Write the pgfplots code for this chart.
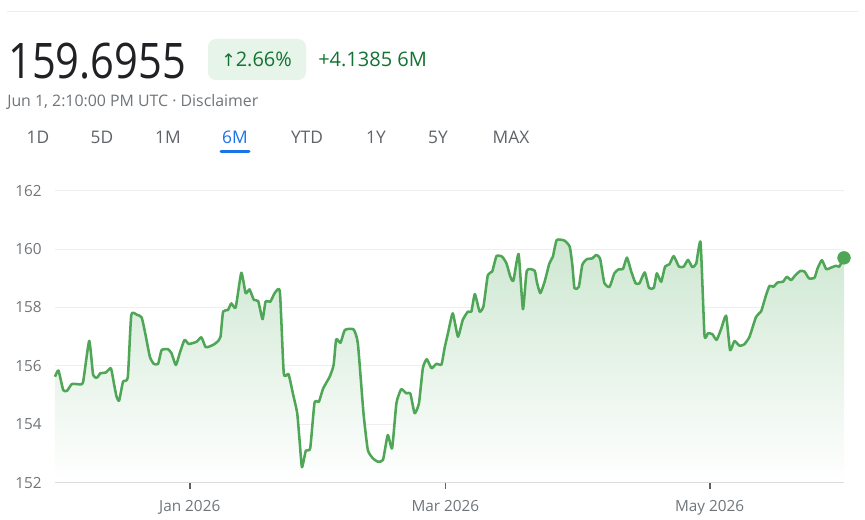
\documentclass[border=0pt]{standalone}
\usepackage{pgfplots}
\pgfplotsset{compat=1.18}
\usepackage{fontspec}
\usepackage{graphicx}
\setmainfont{Open Sans}
\newfontfamily\dejavu{DejaVu Sans}
\definecolor{txtdark}{HTML}{202124}
\definecolor{txtgray}{HTML}{70757A}
\definecolor{tabgray}{HTML}{5F6368}
\definecolor{gtext}{HTML}{137333}
\definecolor{badgebg}{HTML}{E6F4EA}
\definecolor{gblue}{HTML}{1A73E8}
\definecolor{linegreen}{RGB}{78,166,86}
\definecolor{fillgreen}{RGB}{205,231,209}
\definecolor{fillmid}{RGB}{232,244,234}
\definecolor{gridc}{HTML}{EEEEEE}
\definecolor{axisc}{HTML}{9AA0A6}
\definecolor{tickc}{HTML}{5F6368}

\pgfplotstableread{
d v
-31.1 155.63
-30.3 155.84
-29.2 155.17
-28.3 155.15
-27.2 155.38
-25.4 155.37
-24.6 155.46
-23.2 156.86
-22.3 155.69
-21.4 155.60
-20.6 155.75
-19.4 155.77
-18.2 155.92
-17.5 155.40
-16.9 154.95
-16.3 154.81
-15.4 155.46
-14.3 155.61
-13.5 157.74
-12.2 157.75
-11.1 157.66
-10.2 157.06
-9.2 156.31
-8.3 156.07
-7.3 156.07
-6.5 156.54
-5.0 156.57
-4.2 156.43
-3.2 156.03
-2.2 156.49
-1.2 156.89
-0.2 156.75
1.6 156.83
2.7 156.98
3.7 156.64
5.4 156.72
6.4 156.83
7.1 157.00
7.7 157.86
8.8 157.91
9.6 158.14
10.6 158.00
11.9 159.19
12.9 158.49
13.8 158.62
14.8 158.26
15.8 158.22
16.8 157.60
17.5 158.20
18.6 158.20
19.6 158.49
20.8 158.54
21.7 155.75
22.8 155.72
23.8 155.06
24.8 154.38
25.4 153.35
25.9 152.53
26.8 153.10
27.8 153.18
28.8 154.74
29.8 154.77
30.8 155.23
32.3 155.63
33.2 156.03
33.8 156.91
34.8 156.79
35.8 157.23
37.8 157.25
38.8 156.77
40.1 154.38
41.1 153.12
42.3 152.83
43.4 152.72
44.6 152.78
45.7 153.63
46.7 153.18
47.7 154.72
48.8 155.20
50.0 155.06
50.9 155.06
51.9 154.38
52.9 154.72
53.8 155.92
54.7 156.23
55.8 155.92
56.9 156.07
58.1 156.05
58.8 156.60
59.6 157.12
60.7 157.80
61.9 157.00
63.0 157.57
64.2 157.86
65.0 157.86
65.8 158.46
66.9 157.86
67.8 158.05
68.8 159.11
69.8 159.23
70.8 159.76
72.1 159.74
73.1 159.51
74.0 159.05
74.7 158.92
75.9 159.83
76.9 157.94
77.8 159.26
79.6 159.26
80.1 158.88
80.9 158.49
81.9 158.88
83.0 159.51
83.8 159.74
84.7 160.31
86.5 160.29
87.7 160.08
88.3 159.46
88.8 158.66
89.8 158.71
90.6 159.46
91.7 159.66
92.9 159.68
93.8 159.80
94.7 159.68
95.7 158.83
96.9 158.71
98.0 159.17
99.0 159.31
100.0 159.32
100.9 159.71
101.9 159.23
102.9 158.83
103.8 158.83
105.0 159.20
106.0 158.67
107.1 158.67
107.8 159.17
108.8 158.88
109.7 159.40
110.7 159.48
111.7 159.76
112.9 159.40
114.0 159.40
115.0 159.63
116.0 159.38
116.9 159.51
117.9 160.23
118.8 157.06
119.6 157.12
120.6 157.09
121.6 156.89
122.7 157.29
123.8 157.72
124.7 156.54
125.7 156.85
126.9 156.69
128.0 156.74
129.2 157.00
130.7 157.68
131.9 157.88
132.9 158.37
133.8 158.74
134.7 158.71
135.7 158.86
136.9 158.88
137.8 159.05
138.8 158.94
139.8 159.11
140.9 159.25
141.9 159.23
142.9 159.00
144.2 159.02
144.9 159.34
145.9 159.62
146.9 159.31
147.9 159.36
149.2 159.43
149.9 159.40
151.0 159.70
}\pricedata

\begin{document}
\begin{tikzpicture}[x=0.75pt,y=0.75pt]
\path[fill=white] (0,0) rectangle (865,519);
\coordinate (axorig) at (55,36.3);
% header
\draw[color=gridc, line width=0.75pt] (7,507) -- (858,507);
\node[anchor=base west, inner sep=0pt, text=txtdark] at (8,440.7)
  {\scalebox{0.85}[1]{\fontsize{36.75}{40}\selectfont 159.6955}};
\fill[badgebg, rounded corners=6] (208,439) rectangle (306,480);
\node[anchor=base west, inner sep=0pt, text=gtext] at (221,452)
  {\fontsize{15}{17}\selectfont{\dejavu\fontsize{13}{15}\selectfont ↑}2.66\%};
\node[anchor=base west, inner sep=0pt, text=gtext] at (318,452)
  {\fontsize{15}{17}\selectfont +4.1385 6M};
\node[anchor=base west, inner sep=0pt, text=txtgray] at (7,412)
  {\fontsize{11.9}{14}\selectfont Jun 1, 2:10:00 PM UTC · Disclaimer};
\foreach \xx/\lab in {38/1D,102/5D,168/1M,307/YTD,376/1Y,438/5Y,511/MAX}{
  \node[anchor=base, inner sep=0pt, text=tabgray] at (\xx,375)
    {\fontsize{13}{15}\selectfont \lab};
}
\node[anchor=base, inner sep=0pt, text=gblue] at (235,375)
  {\fontsize{13}{15}\selectfont 6M};
\draw[gblue, line width=2.25pt, line cap=round] (221,367) -- (249,367);

\begin{axis}[
  at={(axorig)}, anchor=south west,
  scale only axis, width=591.75pt, height=219pt,
  xmin=-31.1, xmax=151, ymin=152, ymax=162,
  ytick={152,154,156,158,160,162},
  xtick={0,59,120},
  xticklabels={Jan 2026, Mar 2026, May 2026},
  axis x line*=bottom, axis y line*=left,
  y axis line style={draw=none},
  x axis line style={draw=axisc, line width=1.1pt, -},
  ymajorgrids, major grid style={draw=gridc, line width=0.75pt},
  ytick style={draw=none},
  xtick style={draw=tickc, line width=1.3pt},
  tick align=outside, major tick length=4.5pt,
  ticklabel style={text=txtgray, font=\fontsize{11.5}{13}\selectfont},
  yticklabel style={xshift=-2pt},
  xticklabel style={yshift=-5pt},
  /pgf/number format/assume math mode=true,
  clip=false,
]
\addplot[draw=none, top color=fillgreen, middle color=fillmid, bottom color=white, smooth, tension=0.3]
  table[x=d,y=v] {\pricedata} \closedcycle;
\addplot[linegreen, line width=1.9pt, smooth, tension=0.3, line join=round]
  table[x=d,y=v] {\pricedata};
\addplot[only marks, mark=*, mark size=4.8pt, color=linegreen]
  coordinates {(151,159.70)};
\end{axis}
\end{tikzpicture}
\end{document}
